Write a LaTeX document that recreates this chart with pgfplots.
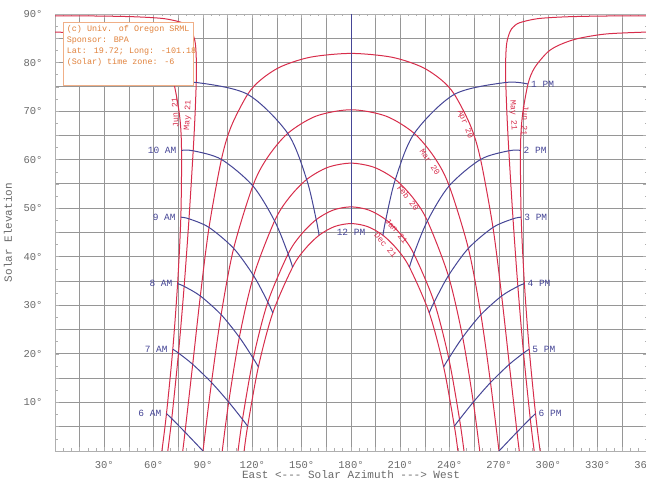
\documentclass[border=0pt]{standalone}
\usepackage{fontspec}
\setmainfont{Liberation Mono}
\usepackage{pgfplots}
\pgfplotsset{compat=1.18}
\definecolor{sunred}{RGB}{215,45,75}
\definecolor{hourblue}{RGB}{70,70,150}
\definecolor{gridgray}{RGB}{150,150,150}
\definecolor{framegray}{RGB}{175,175,175}
\definecolor{labgray}{RGB}{105,105,105}
\definecolor{legorange}{RGB}{225,130,60}
\definecolor{legborder}{RGB}{240,175,135}
\newcommand{\datefont}{\fontsize{8.3}{9}\selectfont}
\newcommand{\hourfont}{\fontsize{9.5}{11}\selectfont}
\begin{document}
\begin{tikzpicture}
\begin{axis}[
 name=ax,
 scale only axis,
 width=592pt, height=437pt,
 xmin=0, xmax=360, ymin=0, ymax=90,
 xtick={0,15,...,360},
 xticklabels={{},{},30°,{},60°,{},90°,{},120°,{},150°,{},180°,{},210°,{},240°,{},270°,{},300°,{},330°,{},360°},
 ytick={0,5,...,90},
 yticklabels={{},{},10°,{},20°,{},30°,{},40°,{},50°,{},60°,{},70°,{},80°,{},90°},
 minor x tick num=2,
 minor y tick num=1,
 grid=major,
 major grid style={gridgray, line width=0.9pt},
 tick align=inside,
 major tick length=4pt,
 minor tick length=2.5pt,
 tick style={framegray, line width=0.6pt},
 axis line style={framegray, line width=0.7pt},
 ticklabel style={font=\fontsize{10.5}{12}\selectfont, text=labgray},
 xticklabel style={anchor=base, yshift=-17pt},
 yticklabel style={anchor=base east, xshift=-9pt, yshift=-3.5pt},
 date/.style={sunred, line width=1pt, smooth},
 hour/.style={hourblue, line width=1pt, smooth},
]
% ---- date curves (red) ----
% Jun 21 morning / afternoon
\addplot[date] coordinates {(65.00,0) (67.80,7.71) (71.63,20.96) (74.55,34.47) (76.52,48.15) (76.95,61.91) (75.86,68.77) (72.38,75.57) (68.41,78.90) (60.58,82.10) (53.58,83.58) (42.50,84.90) (24.78,85.89) (0,86.28)};
\addplot[date] coordinates {(360,86.28) (335.22,85.89) (317.50,84.90) (306.42,83.58) (299.42,82.10) (291.59,78.90) (287.62,75.57) (284.14,68.77) (283.05,61.91) (283.48,48.15) (285.45,34.47) (288.37,20.96) (292.20,7.71) (295.00,0)};
% May 21
\addplot[date] coordinates {(68.59,0) (71.00,6.66) (75.09,20.17) (78.53,33.91) (81.48,47.82) (84.03,61.83) (85.11,68.86) (85.89,75.90) (86.02,79.42) (85.63,82.94) (84.92,84.70) (83.19,86.45) (81.29,87.34) (77.49,88.20) (66.47,89.04) (49.10,89.42) (26.20,89.58) (0,89.62)};
\addplot[date] coordinates {(360,89.62) (333.80,89.58) (310.90,89.42) (293.53,89.04) (282.51,88.20) (278.71,87.34) (276.81,86.45) (275.08,84.70) (274.37,82.94) (273.98,79.42) (274.11,75.90) (274.89,68.86) (275.97,61.83) (278.52,47.82) (281.47,33.91) (284.91,20.17) (289.00,6.66) (291.41,0)};
% Apr 20
\addplot[date] coordinates {(77.67,0) (79.06,3.89) (83.74,17.85) (88.38,31.93) (93.67,46.04) (101.20,60.05) (107.20,66.89) (117.14,73.45) (125.22,76.47) (137.27,79.14) (155.49,81.12) (180,81.88) (204.51,81.12) (222.73,79.14) (234.78,76.47) (242.86,73.45) (252.80,66.89) (258.80,60.05) (266.33,46.04) (271.62,31.93) (276.26,17.85) (280.94,3.89) (282.33,0)};
% Mar 20
\addplot[date] coordinates {(90,0) (95.17,14.10) (101.02,28.08) (108.64,41.73) (120.30,54.61) (129.17,60.42) (141.54,65.41) (158.68,68.96) (180,70.28) (201.32,68.96) (218.46,65.41) (230.83,60.42) (239.70,54.61) (251.36,41.73) (258.98,28.08) (264.83,14.10) (270,0)};
% Feb 20
\addplot[date] coordinates {(101.70,0) (105.63,10.07) (112.10,23.43) (120.80,36.09) (133.54,47.38) (142.28,52.12) (153.04,55.92) (165.84,58.41) (180,59.28) (194.16,58.41) (206.96,55.92) (217.72,52.12) (226.46,47.38) (239.20,36.09) (247.90,23.43) (254.37,10.07) (258.30,0)};
% Jan 21
\addplot[date] coordinates {(111.30,0) (114.00,6.52) (120.56,19.08) (129.42,30.67) (141.78,40.60) (149.68,44.58) (158.84,47.65) (169.09,49.61) (180,50.28) (190.91,49.61) (201.16,47.65) (210.32,44.58) (218.22,40.60) (230.58,30.67) (239.44,19.08) (246.00,6.52) (248.70,0)};
% Dec 21
\addplot[date] coordinates {(115.00,0) (117.15,5.12) (123.67,17.32) (132.44,28.46) (144.48,37.86) (152.01,41.58) (160.58,44.43) (170.03,46.23) (180,46.84) (189.97,46.23) (199.42,44.43) (207.99,41.58) (215.52,37.86) (227.56,28.46) (236.33,17.32) (242.85,5.12) (245.00,0)};
% ---- hour lines (blue) ----
\addplot[hour] coordinates {(67.80,7.71) (71.00,6.66) (79.06,3.89) (90,0)};
\addplot[hour] coordinates {(71.63,20.96) (75.09,20.17) (83.74,17.85) (95.17,14.10) (105.63,10.07) (114.00,6.52) (117.15,5.12)};
\addplot[hour] coordinates {(74.55,34.47) (78.53,33.91) (88.38,31.93) (101.02,28.08) (112.10,23.43) (120.56,19.08) (123.67,17.32)};
\addplot[hour] coordinates {(76.52,48.15) (81.48,47.82) (93.67,46.04) (108.64,41.73) (120.80,36.09) (129.42,30.67) (132.44,28.46)};
\addplot[hour] coordinates {(76.95,61.91) (84.03,61.83) (101.20,60.05) (120.30,54.61) (133.54,47.38) (141.78,40.60) (144.48,37.86)};
\addplot[hour] coordinates {(72.38,75.57) (85.89,75.90) (117.14,73.45) (141.54,65.41) (153.04,55.92) (158.84,47.65) (160.58,44.43)};
\addplot[hourblue, line width=1pt] coordinates {(180,46.84) (180,90)};
\addplot[hour] coordinates {(287.62,75.57) (274.11,75.90) (242.86,73.45) (218.46,65.41) (206.96,55.92) (201.16,47.65) (199.42,44.43)};
\addplot[hour] coordinates {(283.05,61.91) (275.97,61.83) (258.80,60.05) (239.70,54.61) (226.46,47.38) (218.22,40.60) (215.52,37.86)};
\addplot[hour] coordinates {(283.48,48.15) (278.52,47.82) (266.33,46.04) (251.36,41.73) (239.20,36.09) (230.58,30.67) (227.56,28.46)};
\addplot[hour] coordinates {(285.45,34.47) (281.47,33.91) (271.62,31.93) (258.98,28.08) (247.90,23.43) (239.44,19.08) (236.33,17.32)};
\addplot[hour] coordinates {(288.37,20.96) (284.91,20.17) (276.26,17.85) (264.83,14.10) (254.37,10.07) (246.00,6.52) (242.85,5.12)};
\addplot[hour] coordinates {(292.20,7.71) (289.00,6.66) (280.94,3.89) (270,0)};
% ---- hour labels ----
\begin{scope}[every node/.style={text=hourblue, font=\hourfont, inner sep=0pt}]
\node[anchor=east, xshift=-5pt] at (axis cs:67.80,7.71) {6 AM};
\node[anchor=east, xshift=-5pt] at (axis cs:71.63,20.96) {7 AM};
\node[anchor=east, xshift=-5pt] at (axis cs:74.55,34.47) {8 AM};
\node[anchor=east, xshift=-5pt] at (axis cs:76.52,48.15) {9 AM};
\node[anchor=east, xshift=-5pt] at (axis cs:76.95,61.91) {10 AM};
\node[anchor=north, yshift=-5pt] at (axis cs:180,46.84) {12 PM};
\node[anchor=west, xshift=3pt] at (axis cs:287.62,75.57) {1 PM};
\node[anchor=west, xshift=3pt] at (axis cs:283.05,61.91) {2 PM};
\node[anchor=west, xshift=3pt] at (axis cs:283.48,48.15) {3 PM};
\node[anchor=west, xshift=3pt] at (axis cs:285.45,34.47) {4 PM};
\node[anchor=west, xshift=3pt] at (axis cs:288.37,20.96) {5 PM};
\node[anchor=west, xshift=3pt] at (axis cs:292.20,7.71) {6 PM};
\end{scope}
% ---- date labels ----
\begin{scope}[every node/.style={text=sunred, font=\datefont, inner sep=0pt}]
\node[rotate=93] at (axis cs:73.0,69.6) {Jun 21};
\node[rotate=87] at (axis cs:80.9,69.2) {May 21};
\node[rotate=-87] at (axis cs:278.5,69.2) {May 21};
\node[rotate=-93] at (axis cs:285.8,68.0) {Jun 21};
\node[rotate=-68] at (axis cs:249.3,67.3) {Apr 20};
\node[rotate=-56] at (axis cs:228.0,59.5) {Mar 20};
\node[rotate=-52] at (axis cs:214.7,52.1) {Feb 20};
\node[rotate=-50] at (axis cs:207.6,45.3) {Jan 21};
\node[rotate=-50] at (axis cs:201.0,42.4) {Dec 21};
\end{scope}
% ---- info box ----
\draw[legborder, fill=white, line width=0.8pt] (axis cs:4.9,88.3) rectangle (axis cs:83.9,75.2);
\node[anchor=north west, align=left, inner sep=0pt, text=legorange, font=\fontsize{8.4}{10.9}\selectfont] at (axis cs:7.1,87.7)
 {(c) Univ. of Oregon SRML\\Sponsor: BPA\\Lat: 19.72; Long: -101.18\\(Solar) time zone: -6};
\end{axis}
\node[rotate=90, text=labgray, font=\fontsize{11}{13}\selectfont] at ([xshift=-47pt]ax.west) {Solar Elevation};
\node[text=labgray, font=\fontsize{11}{13}\selectfont] at ([yshift=-24pt]ax.south) {East <-{}-{}- Solar Azimuth -{}-{}-> West};
\pgfresetboundingbox
\useasboundingbox ([xshift=-55pt,yshift=-32pt]ax.south west) rectangle ([xshift=-1pt,yshift=14pt]ax.north east);
\end{tikzpicture}
\end{document}
